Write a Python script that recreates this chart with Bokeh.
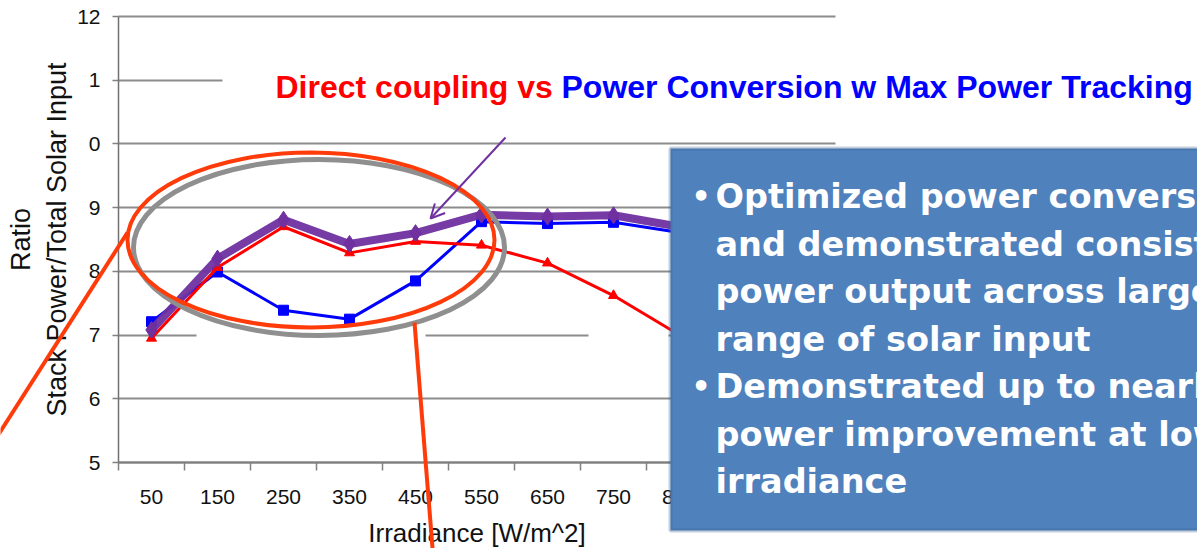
from bokeh.plotting import figure
from bokeh.models import Range1d, FixedTicker, Label, BoxAnnotation, Arrow, OpenHead
from bokeh.embed import file_html
from bokeh.resources import INLINE

# ---- data ----
irradiance = ["50", "150", "250", "350", "450", "550", "650", "750", "850"]
direct_coupling = [6.95, 8.06, 8.70, 8.29, 8.47, 8.41, 8.13, 7.62, 7.00]      # red, triangles
power_conversion = [7.21, 7.99, 7.39, 7.25, 7.85, 8.78, 8.75, 8.77, 8.61]     # blue, squares
max_power = [7.08, 8.20, 8.81, 8.43, 8.60, 8.89, 8.86, 8.88, 8.70]            # purple, diamonds
y_ticks = [5, 6, 7, 8, 9, 10, 11, 12]
y_tick_labels = ["5", "6", "7", "8", "9", "0", "1", "12"]
x_title = "Irradiance [W/m^2]"
y_title = "Ratio\nStack Power/Total Solar Input"
title_red = "Direct coupling vs"
title_blue = "Power Conversion w Max Power Tracking"
box_lines = [
    "Optimized power conversion",
    "and demonstrated consistent",
    "power output across large",
    "range of solar input",
    "Demonstrated up to nearly",
    "power improvement at low",
    "irradiance",
]
box_bullets = [True, False, False, False, True, False, False]

FONT = "Liberation Sans"
BOX_FONT = "DejaVu Sans"
W, H = 1197, 548
X0, Y_TOP, Y_BOT = 118, 16, 462      # chart area in pixels
CAT_PX = 66.0
UNIT_PY = (Y_BOT - Y_TOP) / 7.0

# pixel -> data helpers (used for decorations only)
def px(x):
    return (x - X0) / CAT_PX

def py(y):
    return 12 - (y - Y_TOP) / UNIT_PY

X_END = px(835)
xs = [i + 0.5 for i in range(len(irradiance))]

p = figure(width=W, height=H, output_backend="svg", toolbar_location=None,
           x_range=Range1d(px(0), px(W)), y_range=Range1d(py(H), py(0)),
           min_border=0, min_border_left=0, min_border_right=0,
           min_border_top=0, min_border_bottom=0)
p.outline_line_color = None
p.background_fill_color = "white"
p.border_fill_color = "white"

# axes, pinned at the chart's origin
xa = p.xaxis[0]
xa.fixed_location = 5
xa.bounds = (0, X_END)
xa.ticker = FixedTicker(ticks=xs, minor_ticks=list(range(0, 11)))
xa.major_label_overrides = {x: lab for x, lab in zip(xs, irradiance)}
xa.major_tick_out = 0
xa.major_tick_in = 0
xa.minor_tick_out = 8
xa.minor_tick_in = 0
xa.minor_tick_line_color = "#808080"
xa.minor_tick_line_width = 1.5
xa.axis_line_color = "#808080"
xa.axis_line_width = 2
xa.major_label_text_font = FONT
xa.major_label_text_font_size = "21px"
xa.major_label_text_color = "#111111"
xa.major_label_standoff = 19
xa.axis_label = x_title
xa.axis_label_text_font = FONT
xa.axis_label_text_font_size = "26px"
xa.axis_label_text_font_style = "normal"
xa.axis_label_text_color = "#111111"
xa.axis_label_standoff = 11

ya = p.yaxis[0]
ya.fixed_location = 0
ya.bounds = (5, 12)
ya.ticker = FixedTicker(ticks=y_ticks)
ya.major_label_overrides = {t: lab for t, lab in zip(y_ticks, y_tick_labels)}
ya.major_tick_out = 6
ya.major_tick_in = 0
ya.major_tick_line_color = "#808080"
ya.major_tick_line_width = 1.5
ya.axis_line_color = "#707070"
ya.axis_line_width = 1.5
ya.major_label_text_font = FONT
ya.major_label_text_font_size = "21px"
ya.major_label_text_color = "#111111"
ya.major_label_standoff = 12
ya.axis_label = y_title
ya.axis_label_text_font = FONT
ya.axis_label_text_font_size = "27px"
ya.axis_label_text_font_style = "normal"
ya.axis_label_text_color = "#111111"
ya.axis_label_standoff = 2

p.xgrid.visible = False
p.ygrid.ticker = FixedTicker(ticks=y_ticks)
p.ygrid.grid_line_color = "#8C8C8C"
p.ygrid.grid_line_width = 2
p.ygrid.bounds = (5, 12)
cover = []
try:
    p.ygrid.cross_bounds = (0, X_END)
except Exception:
    cover = [(px(-5), px(112)), (px(835), px(W + 5))]

# white patches hiding parts of the gridlines
qx0 = [px(196), px(588)] + [c[0] for c in cover]
qx1 = [px(425), px(668)] + [c[1] for c in cover]
qt = [py(326), py(326)] + [py(0)] * len(cover)
qb = [py(344), py(344)] + [py(470)] * len(cover)
p.quad(left=qx0, right=qx1, top=qt, bottom=qb, fill_color="white", line_color=None)

# series
p.line(xs, power_conversion, line_color="#0000FF", line_width=3)
p.scatter(xs, power_conversion, marker="square", size=10, fill_color="#0000FF", line_color="#0000FF")
p.line(xs, direct_coupling, line_color="#FF0000", line_width=3)
p.scatter(xs, direct_coupling, marker="triangle", size=10, fill_color="#FF0000", line_color="#FF0000")
p.line(xs, max_power, line_color="#7030A0", line_width=8, line_alpha=0.95)
p.scatter(xs, max_power, marker="diamond", size=17, fill_color="#7030A0", line_color="#7030A0")

# callout ellipses
p.ellipse(x=[px(318.5)], y=[py(247)], width=[371 / CAT_PX], height=[176 / UNIT_PY],
          fill_color=None, line_color="#8F8F8F", line_width=5)
p.ellipse(x=[px(310.5)], y=[py(239.5)], width=[367 / CAT_PX], height=[175 / UNIT_PY],
          fill_color=None, line_color="#FF3B0A", line_width=4)

# white area behind the title
p.add_layout(BoxAnnotation(left=px(222), right=px(W + 20), top=py(52), bottom=py(122),
                           fill_color="white", fill_alpha=1, line_color=None))

# callout lines
p.add_layout(Arrow(end=None, x_start=px(127), y_start=py(232), x_end=px(-2), y_end=py(434),
                   line_color="#FF3B0A", line_width=4))
p.add_layout(Arrow(end=None, x_start=px(414), y_start=py(322), x_end=px(433), y_end=py(560),
                   line_color="#FF3B0A", line_width=4))

# purple pointer arrow
p.add_layout(Arrow(end=OpenHead(size=14, line_color="#7030A0", line_width=2),
                   x_start=px(505), y_start=py(137), x_end=px(430), y_end=py(218),
                   line_color="#7030A0", line_width=2))

# title
p.add_layout(Label(x=px(275), y=py(86), text=title_red, text_font=FONT,
                   text_font_size="32px", text_font_style="bold", text_color="#FF0000",
                   text_baseline="alphabetic"))
p.add_layout(Label(x=px(561), y=py(86), text=title_blue, text_font=FONT,
                   text_font_size="32px", text_font_style="bold", text_color="#0000FF",
                   text_baseline="alphabetic"))

# blue text box
p.add_layout(BoxAnnotation(left=px(670), right=px(W + 30), top=py(148), bottom=py(530),
                           fill_color="#4F81BD", fill_alpha=1, line_color="#385D8A", line_width=4))
baselines = [196 + 47.5 * i for i in range(len(box_lines))]
for line, bl, bullet in zip(box_lines, baselines, box_bullets):
    if bullet:
        p.add_layout(Label(x=px(691), y=py(bl), text="\u2022", text_font=BOX_FONT,
                           text_font_size="30px", text_font_style="bold", text_color="white",
                           text_baseline="alphabetic"))
    p.add_layout(Label(x=px(715), y=py(bl), text=line, text_font=BOX_FONT,
                       text_font_size="33.5px", text_font_style="bold", text_color="white",
                       text_baseline="alphabetic"))

open("out.html", "w").write(file_html(p, INLINE))
